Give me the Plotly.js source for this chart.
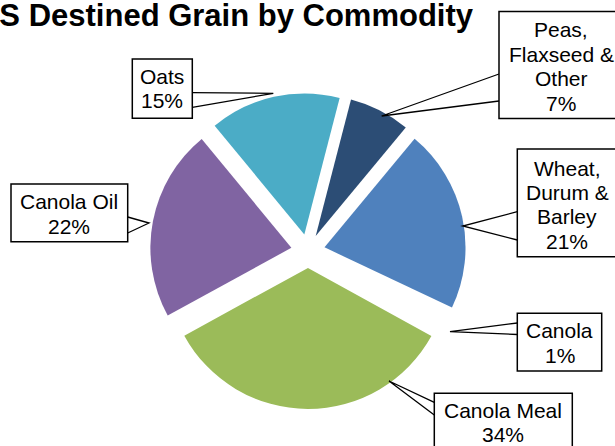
<!DOCTYPE html>
<html>
<head>
<meta charset="utf-8">
<script src="https://cdn.plot.ly/plotly-3.0.1.min.js"></script>
<style>
  html, body { margin: 0; padding: 0; background: #ffffff; }
  #chart { width: 615px; height: 446px; }
</style>
</head>
<body>
<div id="chart"></div>
<script>
// ---------- data ----------
const categories = ['Peas, Flaxseed & Other', 'Wheat, Durum & Barley', 'Canola', 'Canola Meal', 'Canola Oil', 'Oats'];
const shares = [7, 21, 1, 34, 22, 15];
const labelLines = [
  ['Peas,', 'Flaxseed &', 'Other'],
  ['Wheat,', 'Durum &', 'Barley'],
  ['Canola'],
  ['Canola Meal'],
  ['Canola Oil'],
  ['Oats']
];
const titleText = 'US Destined Grain by Commodity';

// ---------- styles / layout constants ----------
const W = 615, H = 446;
const colors = ['#2C4D75', '#4F81BD', 'rgba(255,255,255,0)', '#9BBB59', '#8064A2', '#4BACC6'];
const FONT = '"Liberation Sans", Arial, Helvetica, sans-serif';
const px = x => x / W;
const py = y => 1 - y / H;

// callout geometry (pixels): box, text centre x, first line centre y, line spacing, wedge points
const callouts = [
  {box: [499, 11.5, 623, 118.5],   cx: 561,   y0: 30,    sp: 24.5, wedge: [[499, 74], [381.7, 116], [499, 101]]},
  {box: [517.3, 149, 617, 256.7],  cx: 567,   y0: 168.5, sp: 24.2, wedge: [[517.3, 211.7], [462.7, 226], [517.3, 240]]},
  {box: [517.3, 313.3, 601.7, 371],cx: 559.5, y0: 330,   sp: 25,   wedge: [[517.3, 323], [450, 331.7], [517.3, 334.5]]},
  {box: [434.3, 393.3, 572.3, 452],cx: 503.3, y0: 410.3, sp: 23.8, wedge: [[434.3, 402.3], [389, 381], [434.3, 415]]},
  {box: [11, 184, 127.7, 241.7],   cx: 69.3,  y0: 201,   sp: 25,   wedge: [[127.7, 217], [149, 223], [127.7, 233]]},
  {box: [132.3, 59, 192.3, 118.3], cx: 162.3, y0: 76.5,  sp: 24,   wedge: [[192.3, 92.7], [273.3, 93.3], [192.3, 107.3]]}
];

// pie placement (pixels)
const pieCx = 308, pieCy = 251, pieR = 141, pullFrac = 0.12;
const half = pieR * (1 + pullFrac);

const trace = {
  type: 'pie',
  labels: categories,
  values: shares,
  sort: false,
  direction: 'clockwise',
  rotation: 14.5,
  pull: shares.map(() => pullFrac),
  marker: {colors: colors, line: {width: 0}},
  textinfo: 'none',
  hovertemplate: '%{label}: %{value}%<extra></extra>',
  showlegend: false,
  domain: {
    x: [px(pieCx - half), px(pieCx + half)],
    y: [py(pieCy + half), py(pieCy - half)]
  }
};

const shapes = [];
const annotations = [];
callouts.forEach((c, i) => {
  const w = c.wedge;
  shapes.push({
    type: 'path', xref: 'paper', yref: 'paper', layer: 'above',
    path: `M ${px(w[0][0])} ${py(w[0][1])} L ${px(w[1][0])} ${py(w[1][1])} L ${px(w[2][0])} ${py(w[2][1])}`,
    line: {color: '#000000', width: 1.3}
  });
  shapes.push({
    type: 'rect', xref: 'paper', yref: 'paper', layer: 'above',
    x0: px(c.box[0]), x1: px(c.box[2]), y0: py(c.box[3]), y1: py(c.box[1]),
    fillcolor: '#ffffff', line: {color: '#000000', width: 1.5}
  });
  const lines = labelLines[i].concat([shares[i] + '%']);
  lines.forEach((t, k) => {
    annotations.push({
      xref: 'paper', yref: 'paper',
      x: px(c.cx), y: py(c.y0 + k * c.sp),
      xanchor: 'center', yanchor: 'middle',
      text: t, showarrow: false,
      font: {family: FONT, size: 21, color: '#000000'}
    });
  });
});

const layout = {
  width: W, height: H, autosize: false,
  margin: {l: 0, r: 0, t: 0, b: 0},
  paper_bgcolor: '#ffffff', plot_bgcolor: '#ffffff',
  title: {
    text: '<b>' + titleText + '</b>',
    x: 225 / W, xref: 'container', xanchor: 'center',
    y: 1 - 15.5 / H, yref: 'container', yanchor: 'middle',
    font: {family: FONT, size: 31, color: '#000000'}
  },
  shapes: shapes,
  annotations: annotations,
  showlegend: false
};

Plotly.newPlot('chart', [trace], layout, {displayModeBar: false, staticPlot: false});
</script>
</body>
</html>
